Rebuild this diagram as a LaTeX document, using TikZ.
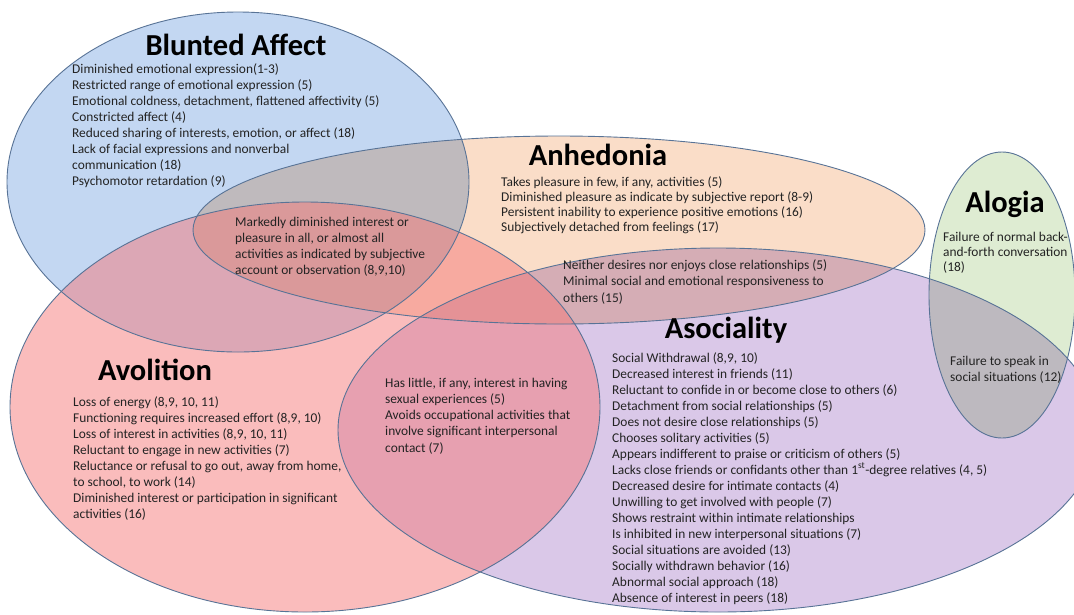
\documentclass[tikz,border=0pt]{standalone}
\usepackage{fontspec}
\setmainfont{Carlito}
\definecolor{bluefill}{RGB}{195,215,242}
\definecolor{peachfill}{RGB}{250,221,200}
\definecolor{pinkfill}{RGB}{245,121,121}
\definecolor{lilacfill}{RGB}{218,200,232}
\definecolor{greenfill}{RGB}{222,236,210}
\definecolor{rimline}{RGB}{88,115,150}
\definecolor{itemtext}{RGB}{35,35,35}

\begin{document}
\begin{tikzpicture}[x=1pt,y=-1pt,
  set node/.style={font=\bfseries\fontsize{30.5}{36}\selectfont,inner sep=0pt,anchor=base},
  item node/.style={font=\fontsize{13.4}{#1}\selectfont,text=itemtext,inner sep=0pt,anchor=base west,align=left},
  item node/.default=15.9,
  rim/.style={draw=rimline,line width=0.9pt}]

  \useasboundingbox (0,0) rectangle (1074,614);
  \clip (0,0) rectangle (1074,614);

  % the five sets
  \begin{scope}[blend mode=multiply]
    \fill[bluefill] (238,182) ellipse (231 and 170);
    \fill[peachfill] (559,230) ellipse (366 and 94);
    \fill[lilacfill] (718,430) ellipse (380 and 182);
    \fill[greenfill] (1002,295) ellipse (73 and 143);
  \end{scope}
  \fill[pinkfill,fill opacity=0.5] (305,407) ellipse (295 and 205);
  \draw[rim] (238,182) ellipse (231 and 170);
  \draw[rim] (559,230) ellipse (366 and 94);
  \draw[rim] (305,407) ellipse (295 and 205);
  \draw[rim] (718,430) ellipse (380 and 182);
  \draw[rim] (1002,295) ellipse (73 and 143);

  % lists sit on the baseline of their last line
  \node[set node] (blunted) at (236,55) {Blunted Affect};
  \node[item node=15.95] (blunted list) at (72,185.6) {Diminished emotional expression(1-3)\\
    Restricted range of emotional expression (5)\\
    Emotional coldness, detachment, flattened affectivity (5)\\
    Constricted affect (4)\\
    Reduced sharing of interests, emotion, or affect (18)\\
    Lack of facial expressions and nonverbal\\
    communication (18)\\
    Psychomotor retardation (9)};

  \node[set node] (anhed) at (598,165) {Anhedonia};
  \node[item node=15] (anhed list) at (501,231) {Takes pleasure in few, if any, activities (5)\\
    Diminished pleasure as indicate by subjective report (8-9)\\
    Persistent inability to experience positive emotions (16)\\
    Subjectively detached from feelings (17)};

  \node[set node] (alogia) at (1005,212) {Alogia};
  \node[item node=15] (alogia list) at (943,271) {Failure of normal back-\\and-forth conversation\\(18)};

  \node[set node] (asocial) at (726,338) {Asociality};
  \node[item node=16] (asocial list) at (612,602) {Social Withdrawal (8,9, 10)\\
    Decreased interest in friends (11)\\
    Reluctant to confide in or become close to others (6)\\
    Detachment from social relationships (5)\\
    Does not desire close relationships (5)\\
    Chooses solitary activities (5)\\
    Appears indifferent to praise or criticism of others (5)\\
    Lacks close friends or confidants other than 1\textsuperscript{st}-degree relatives (4, 5)\\
    Decreased desire for intimate contacts (4)\\
    Unwilling to get involved with people (7)\\
    Shows restraint within intimate relationships\\
    Is inhibited in new interpersonal situations (7)\\
    Social situations are avoided (13)\\
    Socially withdrawn behavior (16)\\
    Abnormal social approach (18)\\
    Absence of interest in peers (18)};

  \node[set node] (avol) at (155,380) {Avolition};
  \node[item node] (avol list) at (73,518) {Loss of energy (8,9, 10, 11)\\
    Functioning requires increased effort (8,9, 10)\\
    Loss of interest in activities (8,9, 10, 11)\\
    Reluctant to engage in new activities (7)\\
    Reluctance or refusal to go out, away from home,\\
    to school, to work (14)\\
    Diminished interest or participation in significant\\
    activities (16)};

  % overlaps
  \node[item node=16] (marked) at (235,274) {Markedly diminished interest or\\
    pleasure in all, or almost all\\
    activities as indicated by subjective\\
    account or observation (8,9,10)};
  \node[item node=16.5] (neither) at (563,302) {Neither desires nor enjoys close relationships (5)\\
    Minimal social and emotional responsiveness to\\
    others (15)};
  \node[item node=16.25] (little) at (385,452) {Has little, if any, interest in having\\
    sexual experiences (5)\\
    Avoids occupational activities that\\
    involve significant interpersonal\\
    contact (7)};
  \node[item node=16] (speak) at (950,381) {Failure to speak in\\social situations (12)};

\end{tikzpicture}
\end{document}
